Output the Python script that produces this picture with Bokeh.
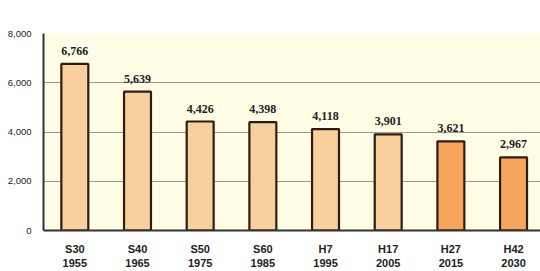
from bokeh.plotting import figure
from bokeh.models import Range1d, ColumnDataSource, NumeralTickFormatter, FixedTicker, LabelSet
from bokeh.embed import file_html
from bokeh.resources import INLINE

era_labels = ["S30", "S40", "S50", "S60", "H7", "H17", "H27", "H42"]
year_labels = ["1955", "1965", "1975", "1985", "1995", "2005", "2015", "2030"]
population = [6766, 5639, 4426, 4398, 4118, 3901, 3621, 2967]
is_projection = [False, False, False, False, False, False, True, True]
y_ticks = [0, 2000, 4000, 6000, 8000]

FONT = "Liberation Sans"

xs = list(range(len(population)))
colors = ["#F6A55C" if p else "#F9CF9E" for p in is_projection]
texts = [f"{v:,}" for v in population]
src = ColumnDataSource(dict(x=xs, top=population, color=colors, text=texts))

p = figure(width=540, height=271, output_backend="svg", toolbar_location=None,
           x_range=Range1d(-0.5, 7.43), y_range=Range1d(0, 8000),
           min_border_left=43, min_border_right=0, min_border_top=33, min_border_bottom=41)
p.background_fill_color = "#FFFDE6"
p.border_fill_color = "white"
p.outline_line_color = None

p.vbar(x="x", top="top", width=0.43, source=src, fill_color="color",
       line_color="#2E1C12", line_width=2.2)

labels = LabelSet(x="x", y="top", text="text", source=src, text_align="center",
                  text_baseline="bottom", y_offset=9, text_font=FONT,
                  text_font_style="bold", text_font_size="12px", text_color="#222222")
p.add_layout(labels)

p.xgrid.grid_line_color = None
p.ygrid.grid_line_color = "#9A9A90"
p.ygrid.grid_line_width = 1
p.ygrid.ticker = FixedTicker(ticks=y_ticks)

p.yaxis.ticker = FixedTicker(ticks=y_ticks)
p.yaxis.formatter = NumeralTickFormatter(format="0,0")
p.yaxis.axis_line_color = "#333333"
p.yaxis.axis_line_width = 2
p.yaxis.major_tick_line_color = None
p.yaxis.minor_tick_line_color = None
p.yaxis.major_label_text_font = FONT
p.yaxis.major_label_text_font_size = "9.5px"
p.yaxis.major_label_text_color = "#222222"
p.yaxis.major_label_standoff = 6

p.xaxis.ticker = FixedTicker(ticks=xs)
p.xaxis.major_label_overrides = {i: f"{e}\n{y}" for i, (e, y) in enumerate(zip(era_labels, year_labels))}
p.xaxis.axis_line_color = "#333333"
p.xaxis.axis_line_width = 2
p.xaxis.major_tick_line_color = None
p.xaxis.minor_tick_line_color = None
p.xaxis.major_label_text_font = FONT
p.xaxis.major_label_text_font_size = "11px"
p.xaxis.major_label_text_font_style = "bold"
p.xaxis.major_label_text_color = "#222222"
p.xaxis.major_label_standoff = 6

open("out.html", "w").write(file_html(p, INLINE))
